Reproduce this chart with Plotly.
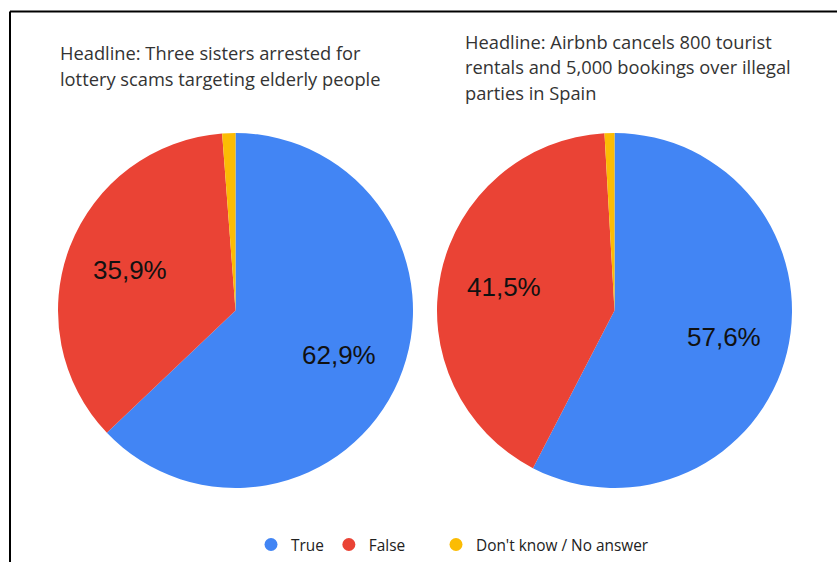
import math
import plotly.graph_objects as go

# Survey answers for two headlines (percent of respondents)
categories = ["True", "False", "Don't know / No answer"]
colors = ["#4285F4", "#EA4335", "#FBBC04"]
sisters_values = [62.9, 35.9, 1.2]
airbnb_values = [57.6, 41.5, 0.9]

sisters_title = ["Headline: Three sisters arrested for",
                 "lottery scams targeting elderly people"]
airbnb_title = ["Headline: Airbnb cancels 800 tourist",
                "rentals and 5,000 bookings over illegal",
                "parties in Spain"]

W, H = 837, 562
HEAD_FONT = "Open Sans"
LABEL_FONT = "Liberation Sans"


def fmt(v):
    return f"{v:.1f}".replace(".", ",") + "%"


fig = go.Figure()

# pie placement in pixels: (left, top, size)
pies = [
    (sisters_values, (58, 133, 355)),
    (airbnb_values, (437, 133, 355)),
]

annotations = []
for values, (left, top, size) in pies:
    fig.add_trace(go.Pie(
        labels=categories,
        values=values,
        sort=False,
        direction="clockwise",
        rotation=0,
        marker=dict(colors=colors, line=dict(width=0)),
        textinfo="none",
        showlegend=False,
        domain=dict(x=[left / W, (left + size) / W],
                    y=[1 - (top + size) / H, 1 - top / H]),
        hovertemplate="%{label}: %{value}%<extra></extra>",
    ))
    # value labels placed at each slice's mid-angle
    cx, cy, r = left + size / 2, top + size / 2, size / 2
    total = sum(values)
    cum = 0.0
    for v in values:
        theta = 2 * math.pi * (cum + v / 2) / total
        cum += v
        if v < 5:
            continue
        px = cx + 0.635 * r * math.sin(theta)
        py = cy - 0.635 * r * math.cos(theta)
        annotations.append(dict(
            x=px / W, y=1 - py / H, xref="paper", yref="paper",
            text=fmt(v), showarrow=False, xanchor="center", yanchor="middle",
            font=dict(family=LABEL_FONT, size=26, color="#111111"),
        ))

# headline lines
for lines, x0, y0, step in [(sisters_title, 58, 52, 26),
                            (airbnb_title, 463, 41, 25.5)]:
    for i, line in enumerate(lines):
        annotations.append(dict(
            x=x0 / W, y=1 - (y0 + i * step) / H, xref="paper", yref="paper",
            text=line, showarrow=False, xanchor="left", yanchor="middle",
            font=dict(family=HEAD_FONT, size=18.3, color="#333333"),
        ))

# legend entries with round markers; the last entry sits in its own legend
for i, (name, c) in enumerate(zip(categories, colors)):
    fig.add_trace(go.Scatter(
        x=[None], y=[None], mode="markers", name=name,
        marker=dict(symbol="circle", size=13, color=c),
        legend="legend2" if i == 2 else "legend",
    ))

legend_style = dict(
    orientation="h",
    xanchor="left",
    y=1 - 545 / H, yanchor="middle",
    font=dict(family=HEAD_FONT, size=15.4, color="#222222"),
    bgcolor="rgba(0,0,0,0)",
)

fig.update_layout(
    width=W, height=H,
    margin=dict(l=0, r=0, t=0, b=0),
    paper_bgcolor="white",
    plot_bgcolor="white",
    xaxis=dict(visible=False),
    yaxis=dict(visible=False),
    annotations=annotations,
    legend=dict(x=251 / W, **legend_style),
    legend2=dict(x=436 / W, **legend_style),
    shapes=[
        dict(type="line", xref="paper", yref="paper",
             x0=10 / W, x1=1, y0=1 - 11.5 / H, y1=1 - 11.5 / H,
             line=dict(color="black", width=2)),
        dict(type="line", xref="paper", yref="paper",
             x0=10 / W, x1=10 / W, y0=0, y1=1 - 11.5 / H,
             line=dict(color="black", width=2)),
    ],
)

fig.write_html("out.html")
